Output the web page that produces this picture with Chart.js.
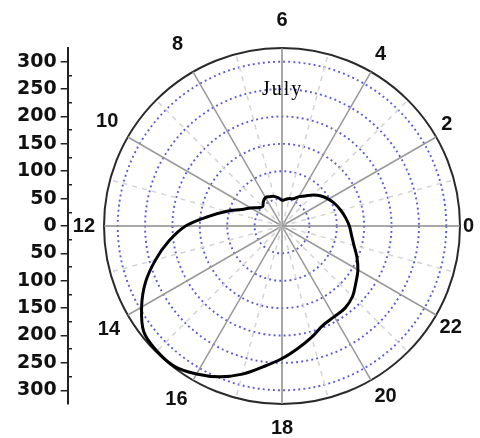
<!DOCTYPE html>
<html lang="en">
<head>
  <meta charset="UTF-8" />
  <title>July - hourly polar plot</title>
  <script src="https://cdn.jsdelivr.net/npm/chart.js"></script>
  <style>
    html, body { margin: 0; padding: 0; background: #fff; width: 480px; height: 438px; overflow: hidden; }
    /* the axis canvas is wider than needed so Chart.js gives the scale room; the box clips the rest */
    #axisBox { position: absolute; left: 0; top: 28px; width: 72px; height: 396px; overflow: hidden; }
    #polarChart { position: absolute; left: 32px; top: 8px; }
    .month {
      position: absolute; left: 262px; top: 78px;
      font: 20px 'Liberation Serif', serif; line-height: 20px;
      letter-spacing: 2px; color: #000;
    }
  </style>
</head>
<body>
  <div id="axisBox"><canvas id="axisChart" width="140" height="396"></canvas></div>
  <canvas id="polarChart" width="500" height="432"></canvas>
  <div class="month">July</div>

  <script>
    // hour of day (every half hour) and the radius
    const hours = [0, 0.5, 1, 1.5, 2, 2.5, 3, 3.5, 4, 4.5, 5, 5.5,
                   6, 6.5, 7, 7.5, 8, 8.5, 9, 9.5, 10, 10.5, 11, 11.5,
                   12, 12.5, 13, 13.5, 14, 14.5, 15, 15.5, 16, 16.5, 17, 17.5,
                   18, 18.5, 19, 19.5, 20, 20.5, 21, 21.5, 22, 22.5, 23, 23.5];
    const radius = [123, 117, 111, 105, 98, 90, 80, 69, 62, 54, 52, 49,
                    47, 52, 56, 58, 60, 56, 50, 55, 66, 79, 104, 135,
                    176, 208, 239, 270, 296, 318, 323, 323, 312, 298, 280, 259,
                    242, 225, 210, 196, 191, 189, 182, 170, 160, 148, 136, 128];

    // rings of the polar grid (outer one is the frame) and left axis ticks
    const rings = [0, 50, 100, 150, 200, 250, 300, 325];
    const rMax = 325;
    const axisTicks = [-300, -275, -250, -225, -200, -175, -150, -125, -100, -75, -50, -25, 0,
                       25, 50, 75, 100, 125, 150, 175, 200, 225, 250, 275, 300];

    // radar draws clockwise from the top, the plot runs anticlockwise from the right
    const order = hours.map((h, i) => (hours.length - i) % hours.length);
    const hourAt = order.map(i => hours[i]);
    const radiusAt = order.map(i => radius[i]);

    const labelPad = { 0: 3, 2: 6, 4: 8, 6: 18, 8: 20, 10: 11, 12: 9, 14: 9, 16: 11, 18: 14, 20: 7, 22: 4 };
    const isEven = h => Number.isInteger(h) && h % 2 === 0;

    new Chart(document.getElementById('polarChart'), {
      type: 'radar',
      data: {
        labels: hourAt,
        datasets: [{
          label: 'July',
          data: radiusAt,
          borderColor: '#000',
          borderWidth: 3,
          pointRadius: 0,
          fill: false,
          tension: 0.35
        }]
      },
      options: {
        responsive: false,
        animation: false,
        plugins: { legend: { display: false }, tooltip: { enabled: false } },
        scales: {
          r: {
            min: 0,
            max: rMax,
            startAngle: 90,
            afterBuildTicks: (scale) => { scale.ticks = rings.map(v => ({ value: v })); },
            ticks: { display: false },
            grid: {
              circular: true,
              color: (c) => (c.tick && c.tick.value === rMax ? '#2a2a2a' : 'rgba(60,60,210,0.85)'),
              lineWidth: (c) => (c.tick && c.tick.value === rMax ? 2 : 1.9)
            },
            border: {
              dash: (c) => (c.tick && c.tick.value === rMax ? [] : [1.9, 3.2])
            },
            angleLines: {
              color: (c) => {
                const h = hourAt[c.index];
                if (!Number.isInteger(h)) return 'rgba(0,0,0,0)';
                if (h % 6 === 0) return '#8a8a8a';
                return h % 2 === 0 ? '#999' : '#d4d4d4';
              },
              lineWidth: (c) => (Number.isInteger(hourAt[c.index]) ? 1.5 : 0),
              borderDash: (c) => (isEven(hourAt[c.index]) ? [] : [5, 5])
            },
            pointLabels: {
              callback: (label, i) => (isEven(hourAt[i]) ? String(hourAt[i]) : ''),
              color: '#111',
              font: { family: 'Liberation Sans', weight: 'bold', size: 20, lineHeight: 1 },
              padding: (c) => (isEven(hourAt[c.index]) ? labelPad[hourAt[c.index]] : 0)
            }
          }
        }
      }
    });

    // left hand radius axis, 300 .. 0 .. 300
    new Chart(document.getElementById('axisChart'), {
      type: 'line',
      data: { labels: [], datasets: [] },
      options: {
        responsive: false,
        animation: false,
        layout: { padding: { top: 20, bottom: 20, left: 13, right: 0 } },
        plugins: { legend: { display: false }, tooltip: { enabled: false } },
        scales: {
          x: { display: false },
          y: {
            min: -rMax,
            max: rMax,
            afterBuildTicks: (scale) => { scale.ticks = axisTicks.map(v => ({ value: v })); },
            ticks: {
              autoSkip: false,
              padding: 4,
              color: '#111',
              font: { family: 'DejaVu Sans', weight: 'bold', size: 19 },
              callback: (v) => (v % 50 === 0 ? String(Math.abs(v)) : '')
            },
            grid: {
              drawOnChartArea: true,
              tickLength: 7,
              lineWidth: 1.5,
              color: (c) => (c.tick && c.tick.value % 50 !== 0 ? '#222' : 'rgba(0,0,0,0)'),
              tickColor: (c) => (c.tick && c.tick.value % 50 === 0 ? '#222' : 'rgba(0,0,0,0)')
            },
            border: { color: '#222', width: 2 }
          }
        }
      }
    });
  </script>
</body>
</html>
